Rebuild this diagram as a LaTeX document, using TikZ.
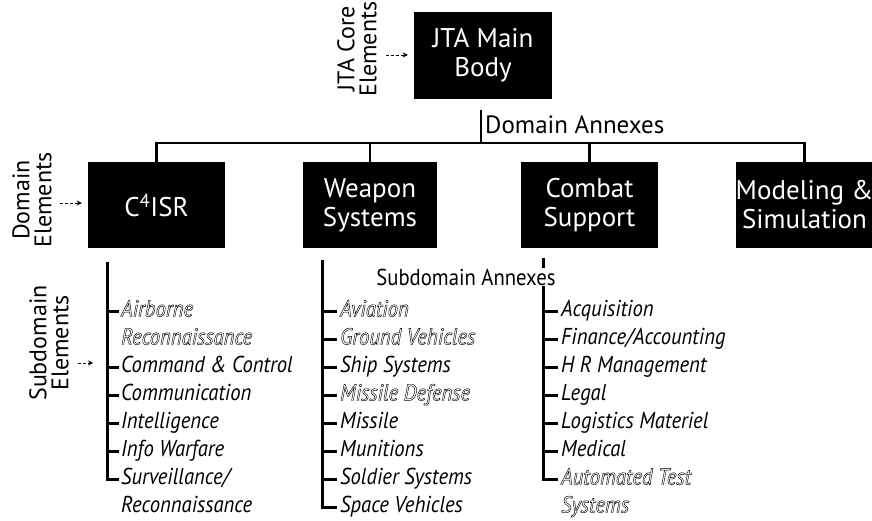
\documentclass[tikz,border=0pt]{standalone}
\usepackage{fontspec}
\setmainfont{PT Sans}
\newfontfamily\condfont[FakeStretch=0.9]{PT Sans}
\usetikzlibrary{positioning,arrows.meta}
% outline text (hollow letters)
\newcommand\hollow[1]{\special{pdf:literal direct 1 Tr 0.45 w}#1\special{pdf:literal direct 0 Tr}}
\tikzset{
  domainbox/.style={fill=black, text=white, align=center, inner sep=0pt, font=\fontsize{27}{29}\selectfont},
  sidelabel/.style={rotate=90, align=center, inner sep=0pt, font=\fontsize{24}{22}\selectfont},
  subitem/.style={anchor=west, inner sep=0pt, font=\condfont\fontsize{23}{24}\selectfont\itshape, text height=15pt, text depth=4pt},
  tree/.style={line width=3pt},
  bar/.style={line width=2.5pt},
  pointer/.style={densely dashed, -{Stealth[length=5pt,width=5pt]}, line width=0.8pt}
}
\begin{document}
\begin{tikzpicture}[x=1pt,y=-1pt]
    \useasboundingbox (0,0) rectangle (872,521);

    % Main body
    \node[domainbox, minimum width=138pt, minimum height=87pt] (main) at (483,55.5) {JTA Main\\Body};
    \node[sidelabel] (corelbl) at (357,49) {JTA Core\\Elements};
    \coordinate (corept) at (386,55);
    \draw[pointer] (corept) -- ([xshift=-6pt]main.west |- corept);

    % Domain boxes
    \node[domainbox, minimum width=137pt, minimum height=86pt] (c4) at (156.5,205) {C\textsuperscript{4}ISR};
    \node[domainbox, minimum width=134pt, minimum height=86pt] (weapon) at (370,205) {Weapon\\Systems};
    \node[domainbox, minimum width=137pt, minimum height=86pt] (combat) at (589.5,205) {Combat\\Support};
    \node[domainbox, minimum width=133pt, minimum height=86pt] (model) at (804.5,205) {Modeling \&\\Simulation};
    \node[sidelabel] (domlbl) at (32,200) {Domain\\Elements};
    \coordinate (dompt) at (60,203);
    \draw[pointer] (dompt) -- ([xshift=-6pt]c4.west |- dompt);

    % Domain annexes
    \coordinate (dtop) at (481,110);
    \coordinate (dbar) at (481,143);
    \node[anchor=west, inner sep=0pt, font=\fontsize{25}{27}\selectfont] (domannex) at (485,125) {Domain Annexes};
    \draw[bar] (dtop) -- (dbar);
    \draw[bar] (c4.north) -- (c4.north |- dbar) -- (model.north |- dbar) -- (model.north);
    \draw[bar] (weapon.north) -- (weapon.north |- dbar);
    \draw[bar] (combat.north) -- (combat.north |- dbar);

    % Subdomain annexes
    \node[sidelabel] (sublbl) at (49,343) {Subdomain\\Elements};
    \coordinate (c4line) at (107,262);
    \coordinate (wpline) at (322,260);
    \coordinate (cbline) at (543,258);
    \coordinate (subpt) at (78,363);
    \draw[pointer] (subpt) -- ([xshift=-14pt]c4line |- subpt);
    \draw[tree] (cbline) -- (cbline |- 0,268);
    \node[font=\condfont\fontsize{23}{24}\selectfont, fill=white, inner sep=1pt] (subannex) at (466,277) {Subdomain Annexes};

    \foreach \txt [count=\i] in {{\hollow{Airborne}}, {\hollow{Reconnaissance}}, Command \& Control, Communication, Intelligence, Info Warfare, Surveillance/, Reconnaissance}
        \node[subitem] (c\i) at (121,283+28*\i) {\txt};
    \foreach \txt [count=\i] in {{\hollow{Aviation}}, {\hollow{Ground Vehicles}}, Ship Systems, {\hollow{Missile Defense}}, Missile, Munitions, Soldier Systems, Space Vehicles}
        \node[subitem] (w\i) at (340,283+28*\i) {\txt};
    \foreach \txt [count=\i] in {Acquisition, Finance/Accounting, H R Management, Legal, Logistics Materiel, Medical, {\hollow{Automated Test}}, {\hollow{Systems}}}
        \node[subitem] (s\i) at (561,283+28*\i) {\txt};

    % Ticks
    \draw[tree] (c4line) |- ([xshift=-2pt]c7.west);
    \foreach \i in {1,3,4,5,6}
        \draw[tree] (c4line |- c\i.west) -- ([xshift=-2pt]c\i.west);
    \draw[tree] (wpline) |- ([xshift=-3pt]w8.west);
    \foreach \i in {1,...,7}
        \draw[tree] (wpline |- w\i.west) -- ([xshift=-3pt]w\i.west);
    \draw[tree] (cbline |- 0,286) |- ([xshift=-3pt]s7.west);
    \foreach \i in {1,...,6}
        \draw[tree] (cbline |- s\i.west) -- ([xshift=-3pt]s\i.west);
\end{tikzpicture}
\end{document}
